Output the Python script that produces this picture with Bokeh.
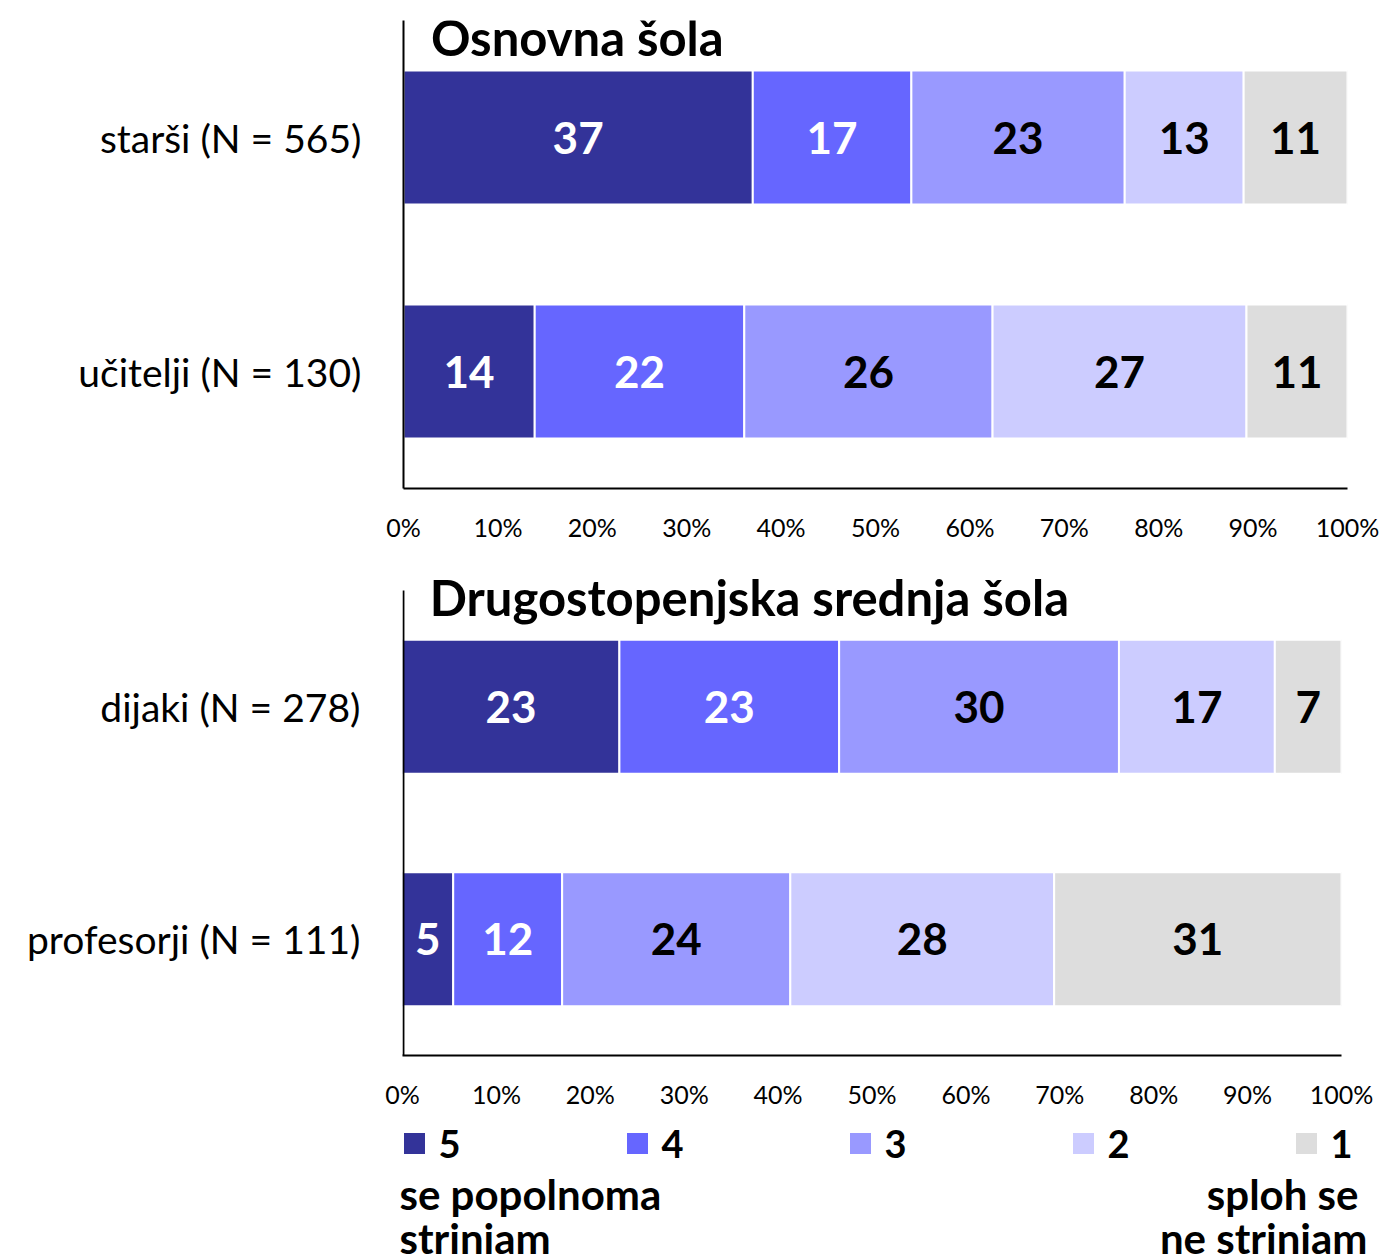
import numpy as np
from bokeh.plotting import figure
from bokeh.models import ColumnDataSource, Range1d, FixedTicker, Label
from bokeh.layouts import column
from bokeh.core.properties import value
from bokeh.embed import file_html
from bokeh.resources import INLINE

# ---------------- data ----------------
levels = ["5", "4", "3", "2", "1"]
colors = ["#333399", "#6666FF", "#9999FF", "#CCCCFF", "#DDDDDD"]
label_colors = ["white", "white", "black", "black", "black"]

title_top = "Osnovna šola"
groups_top = ["starši (N = 565)", "učitelji (N = 130)"]
starsi = [37.0, 16.8, 22.6, 12.6, 11.0]
ucitelji = [13.9, 22.2, 26.3, 26.9, 10.7]

title_bottom = "Drugostopenjska srednja šola"
groups_bottom = ["dijaki (N = 278)", "profesorji (N = 111)"]
dijaki = [23.1, 23.4, 29.8, 16.6, 7.1]
profesorji = [5.4, 11.6, 24.3, 28.1, 30.6]

x_ticks = [0, 10, 20, 30, 40, 50, 60, 70, 80, 90, 100]
x_tick_labels = ["0%", "10%", "20%", "30%", "40%", "50%", "60%", "70%", "80%", "90%", "100%"]

legend_left_text = ["se popolnoma", "strinjam"]
legend_right_text = ["sploh se", "ne strinjam"]

FONT = "Lato"
W = 1386


def panel(title, groups, rows, height, bl, br, bt, bb, y_top, bar_h, title_y, own_yline):
    p = figure(width=W, height=height, output_backend="svg", toolbar_location=None,
               x_range=Range1d(0, 100), y_range=Range1d(-0.5, y_top),
               min_border_left=bl, min_border_right=br, min_border_top=bt, min_border_bottom=bb)
    p.frame_align = False
    p.outline_line_color = None
    p.xgrid.visible = False
    p.ygrid.visible = False

    ys, lefts, rights, cols, labs, tcols, mids = [], [], [], [], [], [], []
    for gi, vals in enumerate(rows):
        y = len(rows) - 1 - gi
        cum = np.concatenate([[0], np.cumsum(vals)])
        for si, v in enumerate(vals):
            ys.append(y)
            lefts.append(cum[si])
            rights.append(cum[si + 1])
            cols.append(colors[si])
            labs.append(f"{v:.0f}")
            tcols.append(label_colors[si])
            mids.append((cum[si] + cum[si + 1]) / 2)
    src = ColumnDataSource(dict(y=ys, left=lefts, right=rights, color=cols,
                                label=labs, tcolor=tcols, mid=mids))
    p.hbar(y="y", left="left", right="right", height=bar_h, fill_color="color",
           line_color="white", line_width=2, source=src)
    p.text(x="mid", y="y", text="label", text_color="tcolor", text_align="center",
           text_baseline="middle", text_font=value(FONT), text_font_style="bold",
           text_font_size="44px", source=src)

    p.xaxis.ticker = FixedTicker(ticks=x_ticks)
    p.xaxis.major_label_overrides = {t: l for t, l in zip(x_ticks, x_tick_labels)}
    p.yaxis.ticker = FixedTicker(ticks=list(range(len(groups))))
    p.yaxis.major_label_overrides = {len(groups) - 1 - i: g for i, g in enumerate(groups)}
    for ax in (p.xaxis[0], p.yaxis[0]):
        ax.axis_line_color = "black"
        ax.axis_line_width = 2
        ax.major_tick_line_color = None
        ax.minor_tick_line_color = None
        ax.major_tick_in = 0
        ax.major_tick_out = 0
        ax.minor_tick_in = 0
        ax.minor_tick_out = 0
        ax.major_label_text_font = FONT
        ax.major_label_text_color = "black"
    p.xaxis.major_label_text_font_size = "25px"
    p.xaxis.major_label_standoff = 23
    p.yaxis.major_label_text_font_size = "39px"
    p.yaxis.major_label_standoff = 42

    if own_yline:
        # vertical axis line only over the category area (title sits above it)
        p.yaxis.axis_line_color = None
        p.segment(x0=0.1, y0=-0.5, x1=0.1, y1=1.5, line_color="black", line_width=2)

    p.add_layout(Label(x=2.9, y=title_y, text=title, text_font=FONT, text_font_style="bold",
                       text_font_size="49px", text_color="black", text_baseline="middle"))
    return p


# top panel: page y 0..560, frame 20..488 (234 px per category)
p1 = panel(title_top, groups_top, [starsi, ucitelji], 560, 403, 39, 20, 72, 1.5, 0.573, 1.429, False)
# bottom panel: page y 560..1118, frame 575..1055 (232.5 px per category)
p2 = panel(title_bottom, groups_bottom, [dijaki, profesorji], 558, 402, 45, 15, 63,
           -0.5 + 480 / 232.5, 0.576, 1.47, True)

# legend panel (page-pixel coordinates)
p3 = figure(width=W, height=136, output_backend="svg", toolbar_location=None,
            x_range=Range1d(0, W), y_range=Range1d(1254, 1118),
            min_border_left=0, min_border_right=0, min_border_top=0, min_border_bottom=0)
p3.frame_align = False
p3.axis.visible = False
p3.grid.visible = False
p3.outline_line_color = None
leg_x = [414 + 223 * i for i in range(len(levels))]
lsrc = ColumnDataSource(dict(x=leg_x, y=[1143] * len(levels), color=colors))
p3.rect(x="x", y="y", width=21, height=21, fill_color="color", line_color=None, source=lsrc)
for lx, lab in zip(leg_x, levels):
    p3.add_layout(Label(x=lx + 24, y=1143, text=lab, text_baseline="middle", text_align="left",
                        text_font=FONT, text_font_style="bold", text_font_size="38px",
                        text_color="black"))
for ty, t in zip([1193, 1237], legend_left_text):
    p3.add_layout(Label(x=399, y=ty, text=t, text_baseline="middle", text_align="left",
                        text_font=FONT, text_font_style="bold", text_font_size="42px",
                        text_color="black"))
for tx, ty, t in zip([1358, 1367], [1193, 1237], legend_right_text):
    p3.add_layout(Label(x=tx, y=ty, text=t, text_baseline="middle", text_align="right",
                        text_font=FONT, text_font_style="bold", text_font_size="42px",
                        text_color="black"))

layout = column(p1, p2, p3, spacing=0)
open("out.html", "w").write(file_html(layout, INLINE))
